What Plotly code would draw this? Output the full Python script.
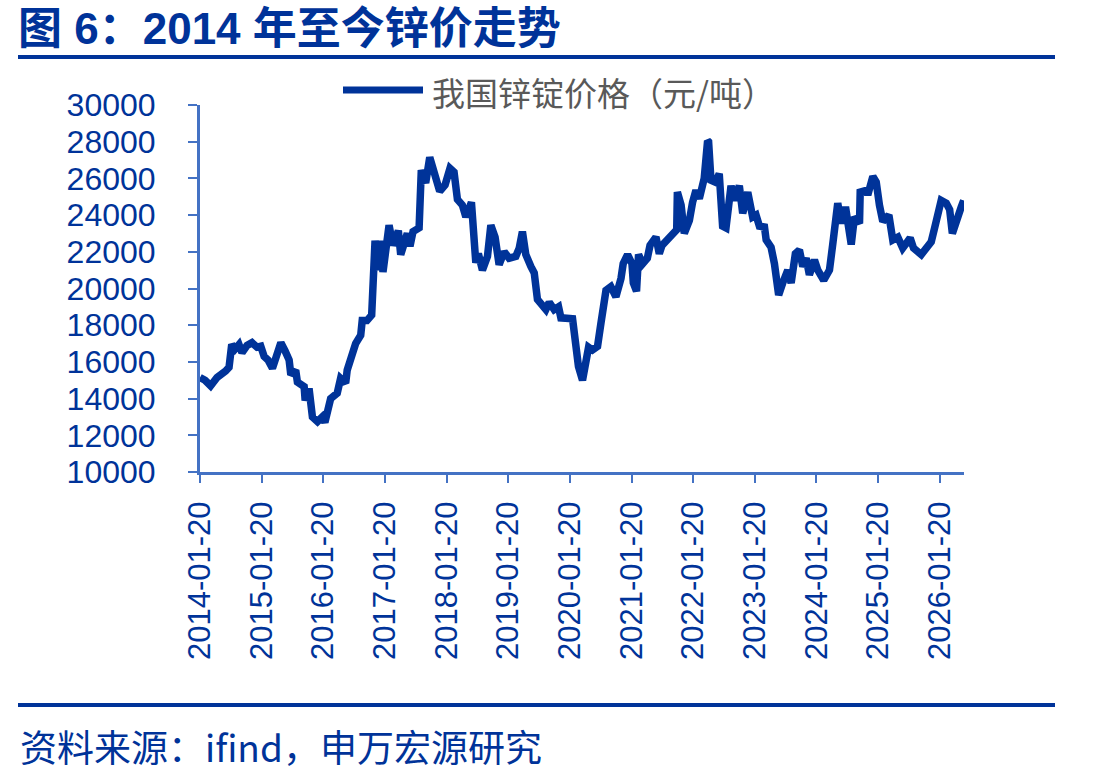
import plotly.graph_objects as go

# ---------------- data ----------------
dates = [
    "2014-01-20", "2014-02-19", "2014-03-24", "2014-05-01", "2014-06-21", "2014-07-11", "2014-07-27",
    "2014-08-16", "2014-09-08", "2014-09-26", "2014-10-26", "2014-11-24", "2014-12-24",
    "2015-01-15", "2015-02-04", "2015-02-27", "2015-03-25", "2015-04-22", "2015-05-14", "2015-06-08",
    "2015-07-02", "2015-07-12", "2015-08-10", "2015-08-20", "2015-09-29", "2015-10-05", "2015-10-28",
    "2015-11-17", "2015-12-17",
    "2016-01-14", "2016-01-30", "2016-03-04", "2016-04-12", "2016-05-02", "2016-06-01", "2016-06-10",
    "2016-07-10", "2016-07-30", "2016-08-29", "2016-09-07", "2016-10-05", "2016-11-02", "2016-11-22",
    "2016-12-15", "2016-12-25",
    "2017-01-08", "2017-02-13", "2017-03-08", "2017-04-09", "2017-04-23", "2017-06-01", "2017-06-17",
    "2017-07-05", "2017-08-10", "2017-08-23", "2017-09-18", "2017-10-12", "2017-11-07", "2017-12-10",
    "2018-01-11", "2018-02-09", "2018-03-05", "2018-03-25", "2018-04-23", "2018-05-14", "2018-06-16",
    "2018-07-12", "2018-07-27", "2018-08-20", "2018-09-19", "2018-10-09", "2018-11-03", "2018-11-27",
    "2018-12-27",
    "2019-01-25", "2019-03-06", "2019-03-26", "2019-04-14", "2019-05-04", "2019-06-03", "2019-06-23",
    "2019-07-12", "2019-08-31", "2019-09-20", "2019-10-19", "2019-11-14", "2019-11-28",
    "2020-02-05", "2020-02-25", "2020-03-11", "2020-04-04", "2020-05-10", "2020-06-02", "2020-07-02",
    "2020-07-22", "2020-08-21", "2020-09-19", "2020-10-19", "2020-11-18", "2020-12-01", "2020-12-27",
    "2021-01-22", "2021-01-30", "2021-02-18", "2021-03-02", "2021-03-26", "2021-04-23", "2021-05-09",
    "2021-06-13", "2021-07-03", "2021-07-19", "2021-08-21", "2021-09-20", "2021-10-14", "2021-10-18",
    "2021-11-09", "2021-11-28", "2021-12-28",
    "2022-01-16", "2022-02-05", "2022-02-25", "2022-03-15", "2022-03-26", "2022-04-15", "2022-04-21",
    "2022-05-05", "2022-05-30", "2022-06-23", "2022-07-13", "2022-08-02", "2022-09-01", "2022-09-21",
    "2022-10-20", "2022-11-09", "2022-12-09",
    "2023-01-07", "2023-01-27", "2023-02-16", "2023-03-18", "2023-03-28", "2023-04-26", "2023-05-16",
    "2023-05-30", "2023-06-10", "2023-07-04", "2023-08-03", "2023-08-23", "2023-09-17", "2023-10-11",
    "2023-10-31", "2023-11-20", "2023-12-09",
    "2024-01-08", "2024-01-28", "2024-03-03", "2024-04-06", "2024-04-26", "2024-05-25", "2024-06-14",
    "2024-07-10", "2024-08-13", "2024-09-01", "2024-10-01", "2024-10-05", "2024-11-10", "2024-11-19",
    "2024-12-19",
    "2025-01-08", "2025-01-27", "2025-02-16", "2025-03-24", "2025-04-16", "2025-05-16", "2025-06-14",
    "2025-07-28", "2025-08-17", "2025-10-02", "2025-11-04", "2025-11-30", "2025-12-20",
    "2026-01-08", "2026-01-28", "2026-02-27", "2026-03-19", "2026-04-04", "2026-04-27", "2026-05-27",
    "2026-06-10",
]

zinc_price = [
    15150, 15000, 14700, 15150, 15500, 15700, 16950, 16700, 16950, 16500, 16900, 17050, 16800,
    16850, 16300, 16100, 15650, 16400, 17050, 16600, 16100, 15300, 15550, 14900, 14650, 13900, 14550,
    13000, 12750,
    13000, 12700, 14000, 14300, 15100, 14850, 15550, 16300, 17000, 17450, 18250, 18250, 18550, 22600,
    21000, 22600,
    20900, 23450, 22350, 23150, 21850, 23000, 22300, 23100, 23300, 26450, 25750, 27150, 26250, 25300,
    25650, 26550, 26350, 24850, 24550, 23900, 24700, 21400, 21900, 21000, 21750, 23450, 22800, 21300,
    22000,
    21650, 21750, 22200, 23100, 21850, 21200, 20850, 19400, 18850, 19250, 18850, 19000, 18400,
    18350, 17000, 15750, 15000, 16800, 16650, 16850, 18100, 19900, 20100, 19550, 20550, 21350, 21850,
    21350, 20300, 19850, 21850, 21350, 21650, 22350, 22800, 21900, 22350, 22700, 22900, 23200, 25250,
    24550, 23000, 23700,
    24700, 25350, 24900, 25900, 26000, 28050, 28000, 25900, 25800, 26250, 23400, 23300, 25600, 24800,
    25600, 24100, 25250,
    23900, 24000, 23400, 23350, 22650, 22250, 21350, 20450, 19650, 20300, 21000, 20300, 21900, 22100,
    21200, 21650, 20750,
    21550, 21000, 20450, 21000, 22450, 24650, 23550, 24450, 22400, 23900, 23550, 25250, 25350, 25100,
    26100,
    25800, 24550, 23650, 24000, 22650, 22800, 22200, 22750, 22200, 21850, 22200, 22550, 23300,
    24100, 24800, 24650, 24300, 23000, 23800, 24450, 24800,
]

x_tick_labels = ["2014-01-20", "2015-01-20", "2016-01-20", "2017-01-20", "2018-01-20",
                 "2019-01-20", "2020-01-20", "2021-01-20", "2022-01-20", "2023-01-20",
                 "2024-01-20", "2025-01-20", "2026-01-20"]

series_name = "我国锌锭价格（元/吨）"
title_text = "图 6：2014 年至今锌价走势"
source_text = "资料来源：ifind，申万宏源研究"

# ---------------- layout geometry ----------------
W, H = 1100, 781
L, R, T, B = 200, 964, 105, 472  # plot area in pixels

def px_x(p):
    return (p - L) / (R - L)

def px_y(p):
    return (B - p) / (B - T)

DARK = "#003399"
AXIS = "#4472C4"
LATIN = "Liberation Sans, Arial, Noto Sans CJK SC, sans-serif"
CJK = "Noto Sans CJK SC, Liberation Sans, sans-serif"

fig = go.Figure()
fig.add_trace(go.Scatter(
    x=dates, y=zinc_price, mode="lines", name=series_name,
    line=dict(color=DARK, width=7.5), showlegend=False,
))

fig.update_layout(
    width=W, height=H,
    margin=dict(l=L, r=W - R, t=T, b=H - B),
    paper_bgcolor="white", plot_bgcolor="white",
    title=dict(
        text="<b>" + title_text + "</b>",
        font=dict(family=LATIN, size=44, color=DARK),
        x=18 / W, xref="container", xanchor="left",
        y=1 - 29 / H, yref="container", yanchor="middle",
    ),
    xaxis=dict(
        type="date", range=["2014-01-20", "2026-06-12"],
        tickvals=x_tick_labels, ticktext=x_tick_labels,
        tickangle=-90, ticks="outside", ticklen=8, tickwidth=2, tickcolor=AXIS,
        showline=True, linecolor=AXIS, linewidth=3,
        showgrid=False, zeroline=False,
        tickfont=dict(family=LATIN, size=31, color=DARK),
        ticklabelstandoff=6,
    ),
    yaxis=dict(
        range=[10000, 30000], dtick=2000, tick0=10000, tickformat="d",
        ticks="outside", ticklen=9, tickwidth=2, tickcolor=AXIS,
        showline=True, linecolor=AXIS, linewidth=3,
        showgrid=False, zeroline=False,
        tickfont=dict(family=LATIN, size=32, color=DARK),
        ticklabelstandoff=26,
    ),
    shapes=[
        # rule under the title
        dict(type="line", xref="paper", yref="paper",
             x0=px_x(18), x1=px_x(1055), y0=px_y(57), y1=px_y(57),
             line=dict(color=DARK, width=4)),
        # rule above the source
        dict(type="line", xref="paper", yref="paper",
             x0=px_x(18), x1=px_x(1055), y0=px_y(705), y1=px_y(705),
             line=dict(color=DARK, width=4)),
        # legend swatch
        dict(type="line", xref="paper", yref="paper",
             x0=px_x(343), x1=px_x(423), y0=px_y(90), y1=px_y(90),
             line=dict(color=DARK, width=7)),
    ],
    annotations=[
        dict(text=series_name, xref="paper", yref="paper",
             x=px_x(430), y=px_y(92), xanchor="left", yanchor="middle",
             showarrow=False, font=dict(family=CJK, size=33, color="#595959")),
        dict(text=source_text, xref="paper", yref="paper",
             x=px_x(18), y=px_y(746), xanchor="left", yanchor="middle",
             showarrow=False, font=dict(family=CJK, size=37, color=DARK)),
    ],
)

fig.write_html("out.html")
